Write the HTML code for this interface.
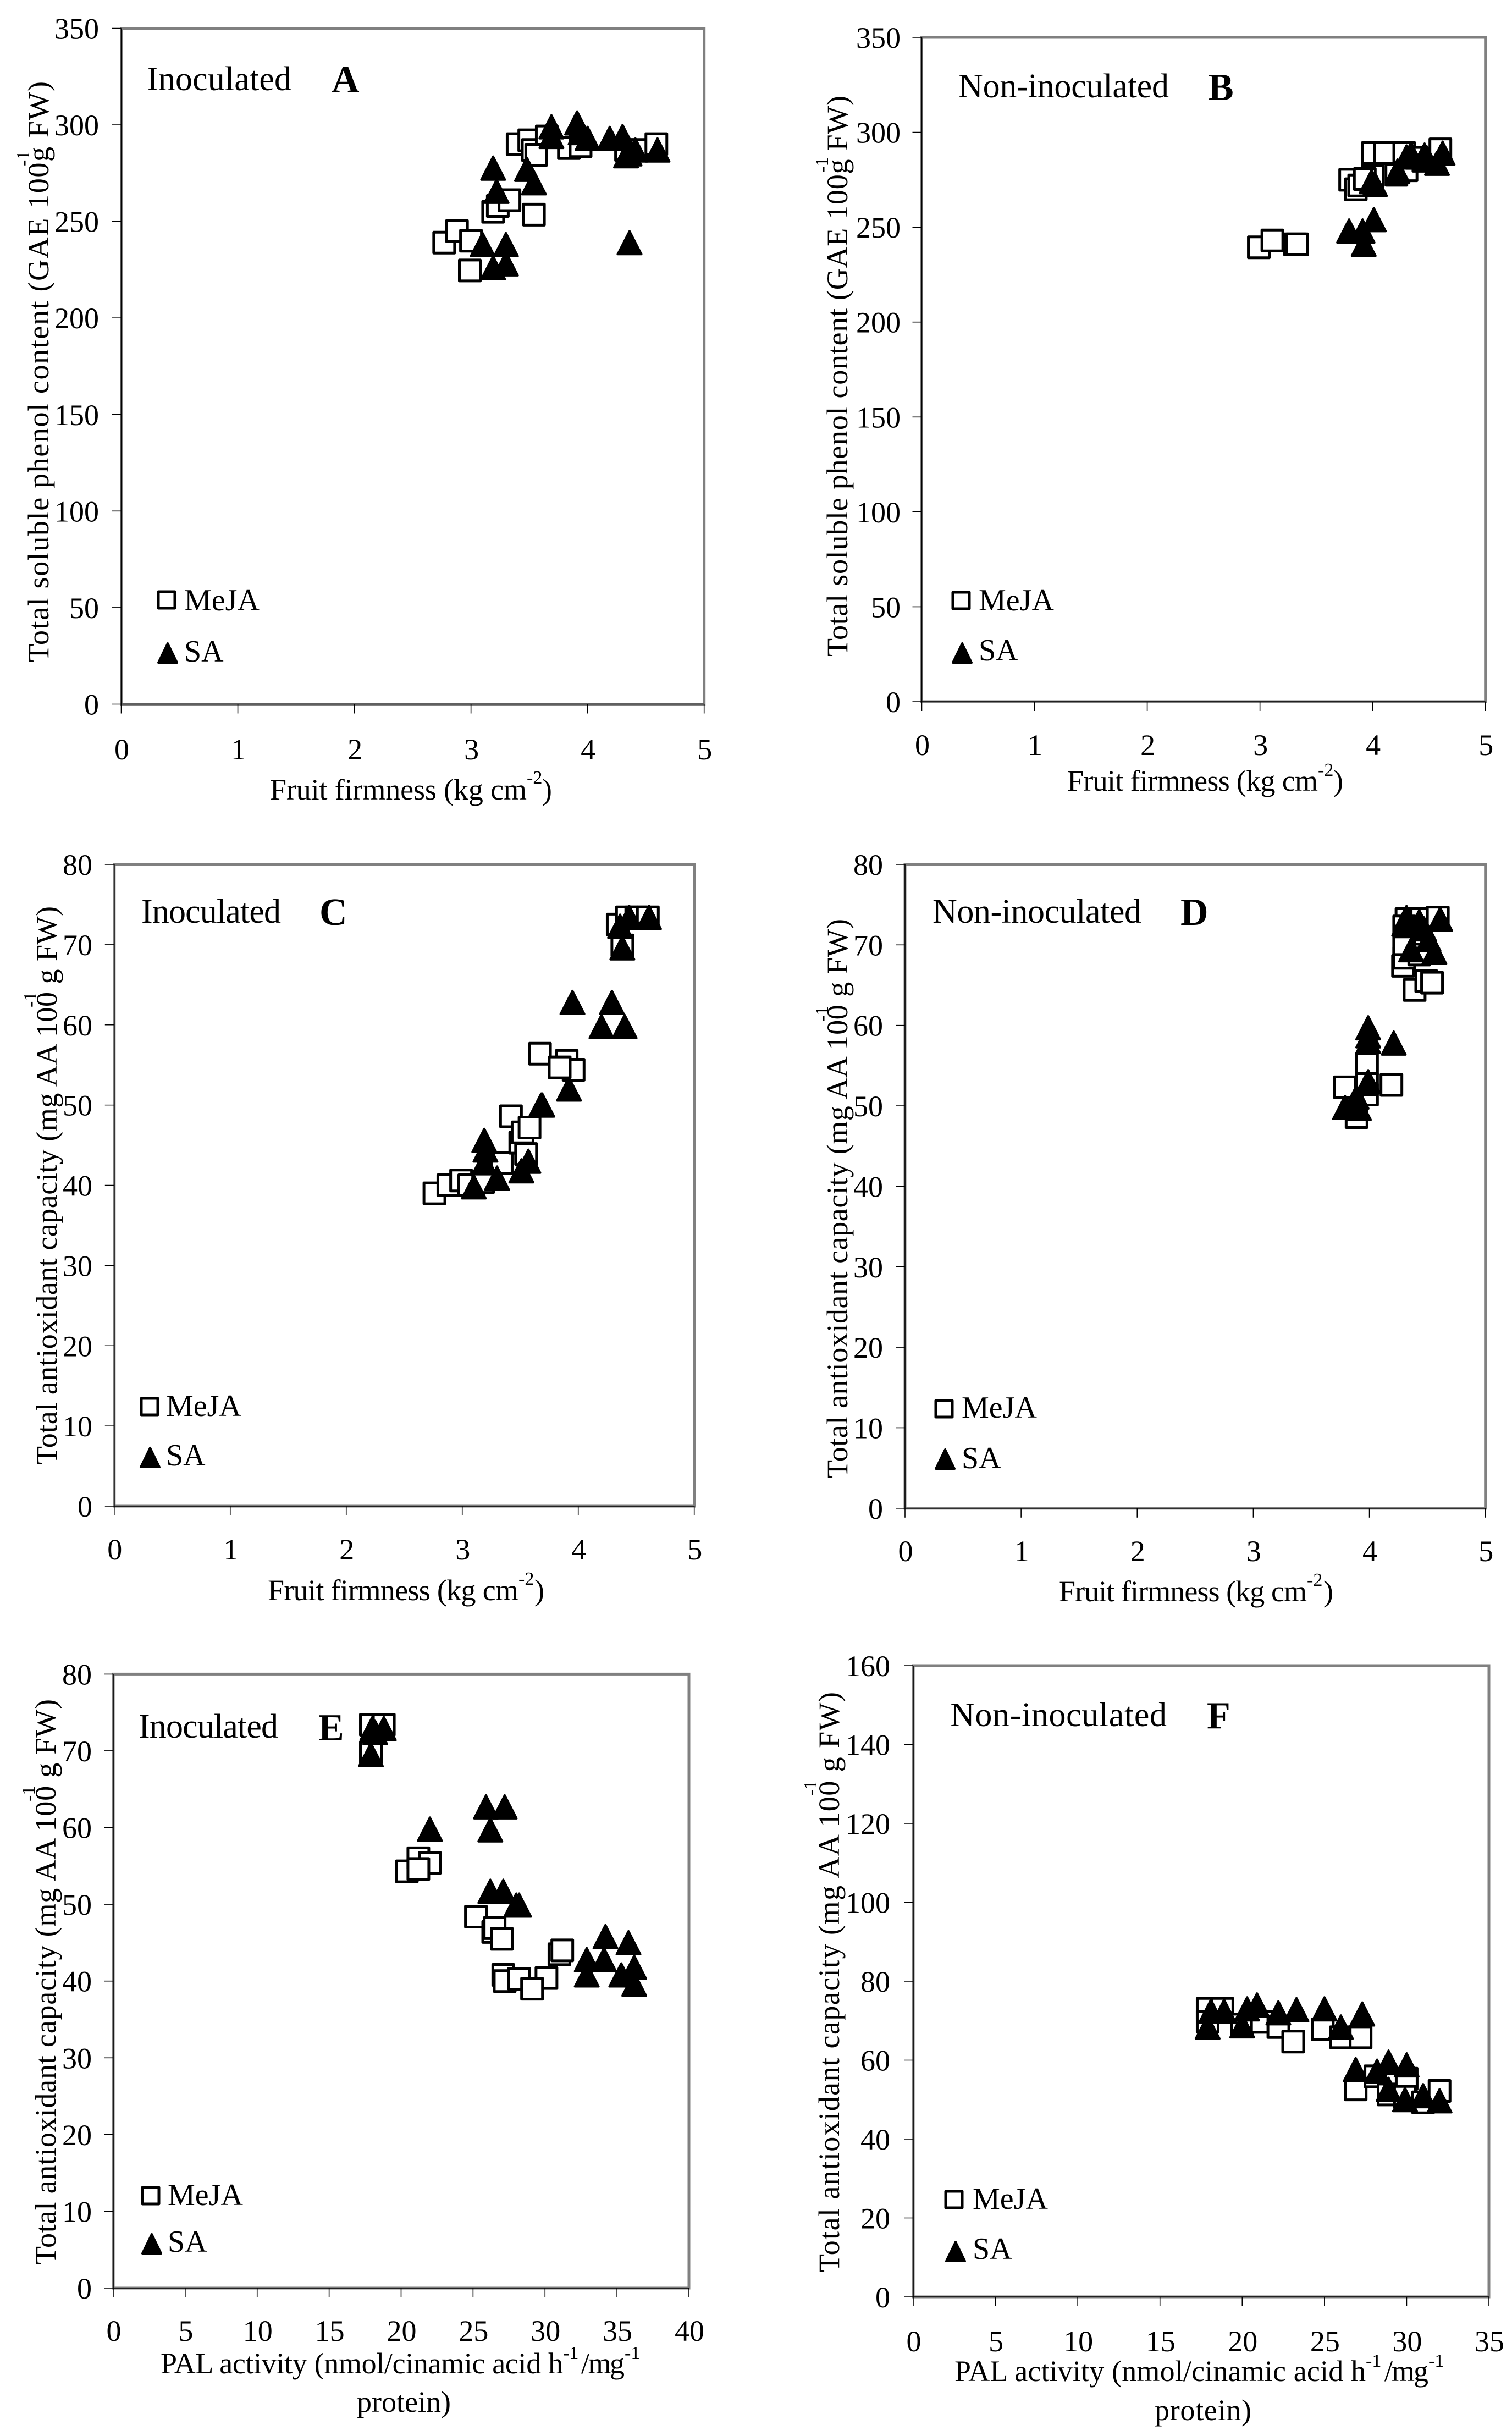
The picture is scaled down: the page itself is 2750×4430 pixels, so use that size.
<!DOCTYPE html>
<html lang="en">
<head>
<meta charset="utf-8">
<title>Fruit firmness, phenol content and antioxidant capacity scatter plots</title>
<style>
html,body{margin:0;padding:0;background:#fff;width:2750px;height:4430px;overflow:hidden}
svg{display:block}
text{font-family:"Liberation Serif","Times New Roman",serif;fill:#000;font-size:54px}
.sup{font-size:34px}
.tag{font-size:62px}
.letter{font-size:70px;font-weight:bold}
.leg{font-size:56px}
.sq{fill:#fff;stroke:#000;stroke-width:5;stroke-linejoin:round}
.tri{fill:#000;stroke:#000;stroke-width:4;stroke-linejoin:round}
</style>
</head>
<body>
<svg id="figure" xmlns="http://www.w3.org/2000/svg" width="2750" height="4430" viewBox="0 0 2750 4430">
<rect x="0" y="0" width="2750" height="4430" fill="#fff"/>

<g id="panel-a"><g class="plot"></g>
<text transform="translate(88,1204) rotate(-90)" textLength="1056" lengthAdjust="spacing">Total soluble phenol content (GAE 100g FW)</text>
<text class="sup" transform="translate(53,302) rotate(-90)">-1</text>
<text x="491" y="1454" textLength="467" lengthAdjust="spacing">Fruit firmness (kg cm</text>
<text class="sup" x="958" y="1425">-2</text>
<text x="986" y="1454">)</text>
<text class="tag" x="267" y="164" textLength="263" lengthAdjust="spacing">Inoculated</text>
<text class="letter" x="603" y="168">A</text>
<rect class="sq" x="288" y="1076" width="30" height="30"/>
<text class="leg" x="335" y="1110">MeJA</text>
<polygon class="tri" points="305,1170 288,1205 322,1205"/>
<text class="leg" x="335" y="1203">SA</text>
</g>

<g id="panel-b"><g class="plot"></g>
<text transform="translate(1541,1194) rotate(-90)" textLength="1020" lengthAdjust="spacing">Total soluble phenol content (GAE 100g FW)</text>
<text class="sup" transform="translate(1506,314) rotate(-90)">-1</text>
<text x="1941" y="1438" textLength="456" lengthAdjust="spacing">Fruit firmness (kg cm</text>
<text class="sup" x="2397" y="1411">-2</text>
<text x="2425" y="1438">)</text>
<text class="tag" x="1743" y="177" textLength="383" lengthAdjust="spacing">Non-inoculated</text>
<text class="letter" x="2197" y="182">B</text>
<rect class="sq" x="1733" y="1077" width="30" height="30"/>
<text class="leg" x="1780" y="1110">MeJA</text>
<polygon class="tri" points="1750,1170 1733,1205 1767,1205"/>
<text class="leg" x="1780" y="1201">SA</text>
</g>

<g id="panel-c"><g class="plot"></g>
<text transform="translate(103,2663) rotate(-90)" textLength="1015" lengthAdjust="spacing">Total antioxidant capacity (mg AA 100 g FW)</text>
<text class="sup" transform="translate(66,1832) rotate(-90)">-1</text>
<text x="487" y="2910" textLength="456" lengthAdjust="spacing">Fruit firmness (kg cm</text>
<text class="sup" x="943" y="2882">-2</text>
<text x="972" y="2910">)</text>
<text class="tag" x="257" y="1678" textLength="254" lengthAdjust="spacing">Inoculated</text>
<text class="letter" x="581" y="1682">C</text>
<rect class="sq" x="257" y="2543" width="30" height="30"/>
<text class="leg" x="302" y="2575">MeJA</text>
<polygon class="tri" points="273,2633 256,2668 290,2668"/>
<text class="leg" x="302" y="2665">SA</text>
</g>

<g id="panel-d"><g class="plot"></g>
<text transform="translate(1541,2688) rotate(-90)" textLength="1017" lengthAdjust="spacing">Total antioxidant capacity (mg AA 100 g FW)</text>
<text class="sup" transform="translate(1506,1858) rotate(-90)">-1</text>
<text x="1926" y="2912" textLength="451" lengthAdjust="spacing">Fruit firmness (kg cm</text>
<text class="sup" x="2377" y="2884">-2</text>
<text x="2407" y="2912">)</text>
<text class="tag" x="1696" y="1678" textLength="380" lengthAdjust="spacing">Non-inoculated</text>
<text class="letter" x="2147" y="1682">D</text>
<rect class="sq" x="1702" y="2547" width="30" height="30"/>
<text class="leg" x="1749" y="2578">MeJA</text>
<polygon class="tri" points="1719,2636 1702,2671 1736,2671"/>
<text class="leg" x="1749" y="2670">SA</text>
</g>

<g id="panel-e"><g class="plot"></g>
<text transform="translate(101,4118) rotate(-90)" textLength="1028" lengthAdjust="spacing">Total antioxidant capacity (mg AA 100  g FW)</text>
<text class="sup" transform="translate(63,3276) rotate(-90)">-1</text>
<text x="292" y="4316" textLength="732" lengthAdjust="spacing">PAL activity (nmol/cinamic acid h</text>
<text class="sup" x="1024" y="4290">-1</text>
<text x="1057" y="4316" textLength="79" lengthAdjust="spacing">/mg</text>
<text class="sup" x="1136" y="4290">-1</text>
<text x="649" y="4386" textLength="171" lengthAdjust="spacing">protein)</text>
<text class="tag" x="252" y="3160" textLength="254" lengthAdjust="spacing">Inoculated</text>
<text class="letter" x="579" y="3165">E</text>
<rect class="sq" x="259" y="3978" width="30" height="30"/>
<text class="leg" x="305" y="4010">MeJA</text>
<polygon class="tri" points="276,4063 259,4098 293,4098"/>
<text class="leg" x="305" y="4095">SA</text>
</g>

<g id="panel-f"><g class="plot"></g>
<text transform="translate(1526,4132) rotate(-90)" textLength="1055" lengthAdjust="spacing">Total antioxidant capacity (mg AA 100  g FW)</text>
<text class="sup" transform="translate(1485,3266) rotate(-90)">-1</text>
<text x="1736" y="4330" textLength="748" lengthAdjust="spacing">PAL activity (nmol/cinamic acid h</text>
<text class="sup" x="2484" y="4304">-1</text>
<text x="2518" y="4330" textLength="80" lengthAdjust="spacing">/mg</text>
<text class="sup" x="2598" y="4304">-1</text>
<text x="2100" y="4401" textLength="176" lengthAdjust="spacing">protein)</text>
<text class="tag" x="1728" y="3139" textLength="394" lengthAdjust="spacing">Non-inoculated</text>
<text class="letter" x="2195" y="3143">F</text>
<rect class="sq" x="1720" y="3985" width="30" height="30"/>
<text class="leg" x="1769" y="4017">MeJA</text>
<polygon class="tri" points="1738,4077 1721,4112 1755,4112"/>
<text class="leg" x="1769" y="4108">SA</text>
</g>
</svg>

<script>
// Tick labels
const firmnessTicks = [0, 1, 2, 3, 4, 5];
const phenolTicks = [0, 50, 100, 150, 200, 250, 300, 350];
const capacityTicks = [0, 10, 20, 30, 40, 50, 60, 70, 80];
const palTicksE = [0, 5, 10, 15, 20, 25, 30, 35, 40];
const palTicksF = [0, 5, 10, 15, 20, 25, 30, 35];
const capacityTicksF = [0, 20, 40, 60, 80, 100, 120, 140, 160];

// Panel A
const aMejaX = [2.77, 2.88, 3.0, 2.99, 3.19, 3.23, 3.33, 3.54, 3.40, 3.5, 3.53, 3.65, 3.56, 3.84, 3.94, 4.33, 4.42, 4.59];
const aMejaY = [239, 245, 240, 224.6, 255, 258, 261, 253.5, 290, 292, 287, 294, 284.5, 288, 289, 287, 287, 290];
const aSaX = [3.1, 3.3, 3.19, 3.3, 3.19, 3.22, 3.48, 3.54, 3.69, 3.69, 3.91, 3.94, 4.0, 4.19, 4.3, 4.36, 4.41, 4.36, 4.6, 4.33];
const aSaY = [238, 238, 226, 228, 277.6, 265.6, 277, 270, 299, 294, 301, 296, 293, 293, 294, 285, 287, 239, 287, 284];

// Panel B
const bMejaX = [2.99, 3.11, 3.31, 3.33, 3.8, 3.85, 3.88, 4.0, 3.93, 4.0, 4.11, 4.21, 4.3, 4.28, 4.45, 4.6, 4.39];
const bMejaY = [239.4, 243, 241, 241, 275, 270, 272, 277, 275.4, 289, 289, 277.6, 280, 289, 285, 291, 286.5];
const bSaX = [3.79, 3.91, 3.92, 4.01, 3.99, 4.02, 4.22, 4.3, 4.34, 4.45, 4.48, 4.57, 4.62, 4.46];
const bSaY = [248, 248, 241, 254, 274, 272.6, 279.6, 287, 288.5, 287, 286.5, 283.7, 289, 288];

// Panel C
const cMejaX = [2.76, 2.88, 2.99, 3.06, 3.18, 3.34, 3.42, 3.5, 3.52, 3.58, 3.55, 3.67, 3.9, 3.96, 3.84, 4.34, 4.38, 4.42, 4.5, 4.6];
const cMejaY = [39, 40, 40.6, 40, 40.4, 42.8, 48.6, 45.3, 46.6, 47.2, 43.9, 56.4, 55.5, 54.4, 54.7, 72.5, 69.9, 73.4, 73.4, 73.4];
const cSaX = [3.1, 3.3, 3.19, 3.2, 3.19, 3.51, 3.57, 3.68, 3.69, 3.92, 3.95, 4.29, 4.2, 4.4, 4.38, 4.36, 4.44, 4.61];
const cSaY = [39.8, 40.9, 42.8, 44.4, 45.6, 41.8, 43, 50, 50, 52, 62.8, 62.8, 59.8, 59.8, 69.6, 72.3, 73.4, 73.4];

// Panel D
const dMejaX = [3.79, 3.89, 3.98, 3.98, 3.98, 4.19, 4.29, 4.3, 4.3, 4.39, 4.49, 4.54, 4.32, 4.45, 4.59, 4.43, 4.3];
const dMejaY = [52.3, 48.6, 55.2, 51.4, 52.7, 52.6, 67.4, 68.4, 70.1, 64.4, 65.5, 65.3, 73.2, 73.2, 73.4, 68.8, 72.3];
const dSaX = [3.79, 3.91, 3.89, 3.99, 3.99, 3.99, 3.99, 4.21, 4.32, 4.3, 4.43, 4.36, 4.51, 4.56, 4.61, 4.47];
const dSaY = [49.8, 49.7, 51.1, 53, 59.7, 58.7, 58, 57.8, 73.4, 72.6, 72.9, 69.4, 70.7, 69.1, 73.2, 72];

// Panel E
const eMejaX = [17.9, 18.8, 17.9, 20.4, 21.2, 22, 21.2, 25.2, 26.4, 26.5, 27, 27.1, 27.2, 28.2, 30.1, 29.1, 31, 31.2];
const eMejaY = [73.4, 73.4, 69.8, 54.3, 56, 55.4, 54.6, 48.4, 46.4, 46.9, 45.5, 40.8, 40, 40.3, 40.4, 39, 43.5, 44];
const eSaX = [18, 18.8, 18.2, 17.9, 22, 25.9, 27.2, 26.2, 26.2, 27.1, 28, 28.2, 32.9, 32.9, 34.1, 34.2, 35.8, 35.3, 36.2, 36.2];
const eSaY = [72.9, 72.9, 72.4, 69.5, 59.8, 62.7, 62.7, 59.7, 51.7, 51.7, 49.9, 49.9, 40.8, 42.8, 42.8, 45.8, 45, 40.8, 41.8, 39.6];

// Panel F
const fMejaX = [17.9, 18.8, 17.9, 20, 21.2, 22.2, 23.1, 24.9, 26, 27.2, 26.9, 28.1, 28.9, 30, 29.9, 31, 32];
const fMejaY = [73, 73, 69.7, 69, 69.7, 68.4, 64.7, 67.8, 65.8, 65.8, 52.6, 55.9, 51.3, 55.3, 50.7, 49.3, 52.2];
const fSaX = [17.9, 18.1, 18.9, 20, 20.3, 20.9, 22.2, 23.3, 25, 26, 27.3, 26.9, 28.2, 28.9, 30, 28.9, 29.9, 31, 32];
const fSaY = [68.4, 72.4, 72.4, 68.7, 73, 74, 72, 72.8, 73, 68.4, 71.7, 57.6, 57.2, 59.5, 58.8, 52.6, 50, 51, 49.7];

const SVG_NS = 'http://www.w3.org/2000/svg';

function linearScale(domainMax, pixelStart, pixelEnd) {
  return function (value) {
    return pixelStart + (value / domainMax) * (pixelEnd - pixelStart);
  };
}

function drawPanel(panelId, box, xTicks, yTicks, mejaX, mejaY, saX, saY) {
  const plot = document.querySelector('#' + panelId + ' .plot');
  const xAxis = linearScale(xTicks[xTicks.length - 1], box.left, box.right);
  const yAxis = linearScale(yTicks[yTicks.length - 1], box.bottom, box.top);

  const frame = document.createElementNS(SVG_NS, 'rect');
  
  
  frame.setAttribute('x', box.left);
  frame.setAttribute('y', box.top);
  frame.setAttribute('width', box.right - box.left);
  frame.setAttribute('height', box.bottom - box.top);
  frame.setAttribute('fill', '#fff');
  frame.setAttribute('stroke', '#808080');
  frame.setAttribute('stroke-width', '5');
  plot.appendChild(frame);

  const axisPath = document.createElementNS(SVG_NS, 'path');
  
  
  axisPath.setAttribute('d', 'M' + box.left + ' ' + box.top + 'V' + box.bottom + 'H' + box.right);
  axisPath.setAttribute('fill', 'none');
  axisPath.setAttribute('stroke', '#000');
  axisPath.setAttribute('stroke-width', '1.6');
  plot.appendChild(axisPath);

  xTicks.forEach(function (tick) {
    const px = xAxis(tick);
    const mark = document.createElementNS(SVG_NS, 'line');
    
    
    mark.setAttribute('x1', px);
    mark.setAttribute('x2', px);
    mark.setAttribute('y1', box.bottom);
    mark.setAttribute('y2', box.bottom + 17);
    mark.setAttribute('stroke', '#000');
    mark.setAttribute('stroke-width', '1.6');
    plot.appendChild(mark);

    const label = document.createElementNS(SVG_NS, 'text');
    
    
    label.setAttribute('x', px + 1);
    label.setAttribute('y', box.xLabelY);
    label.setAttribute('text-anchor', 'middle');
    label.textContent = tick;
    plot.appendChild(label);
  });

  yTicks.forEach(function (tick) {
    const py = yAxis(tick);
    const mark = document.createElementNS(SVG_NS, 'line');
    
    
    mark.setAttribute('x1', box.left - 17);
    mark.setAttribute('x2', box.left);
    mark.setAttribute('y1', py);
    mark.setAttribute('y2', py);
    mark.setAttribute('stroke', '#000');
    mark.setAttribute('stroke-width', '1.6');
    plot.appendChild(mark);

    const label = document.createElementNS(SVG_NS, 'text');
    
    
    label.setAttribute('x', box.yLabelX);
    label.setAttribute('y', py + 19);
    label.setAttribute('text-anchor', 'end');
    label.textContent = tick;
    plot.appendChild(label);
  });

  mejaX.forEach(function (value, i) {
    const cx = xAxis(value);
    const cy = yAxis(mejaY[i]);
    const square = document.createElementNS(SVG_NS, 'rect');
    
    
    square.setAttribute('class', 'sq');
    square.setAttribute('x', cx - 19);
    square.setAttribute('y', cy - 19);
    square.setAttribute('width', 38);
    square.setAttribute('height', 38);
    plot.appendChild(square);
  });

  saX.forEach(function (value, i) {
    const cx = xAxis(value);
    const cy = yAxis(saY[i]);
    const triangle = document.createElementNS(SVG_NS, 'polygon');
    
    
    triangle.setAttribute('class', 'tri');
    triangle.setAttribute('points', cx + ',' + (cy - 21) + ' ' + (cx - 21.5) + ',' + (cy + 21) + ' ' + (cx + 21.5) + ',' + (cy + 21));
    plot.appendChild(triangle);
  });
}

drawPanel('panel-a', {left: 220.5, right: 1280.7, top: 51.5, bottom: 1280.5, xLabelY: 1381, yLabelX: 180}, firmnessTicks, phenolTicks, aMejaX, aMejaY, aSaX, aSaY);
drawPanel('panel-b', {left: 1676.5, right: 2701.7, top: 68, bottom: 1276, xLabelY: 1373, yLabelX: 1638}, firmnessTicks, phenolTicks, bMejaX, bMejaY, bSaX, bSaY);
drawPanel('panel-c', {left: 207.8, right: 1262.7, top: 1572, bottom: 2739, xLabelY: 2836, yLabelX: 168}, firmnessTicks, capacityTicks, cMejaX, cMejaY, cSaX, cSaY);
drawPanel('panel-d', {left: 1646, right: 2701.7, top: 1572, bottom: 2742.8, xLabelY: 2839, yLabelX: 1606}, firmnessTicks, capacityTicks, dMejaX, dMejaY, dSaX, dSaY);
drawPanel('panel-e', {left: 206, right: 1253, top: 3044.4, bottom: 4161, xLabelY: 4257, yLabelX: 167}, palTicksE, capacityTicks, eMejaX, eMejaY, eSaX, eSaY);
drawPanel('panel-f', {left: 1661, right: 2708, top: 3029, bottom: 4177, xLabelY: 4276, yLabelX: 1619}, palTicksF, capacityTicksF, fMejaX, fMejaY, fSaX, fSaY);
</script>
</body>
</html>
